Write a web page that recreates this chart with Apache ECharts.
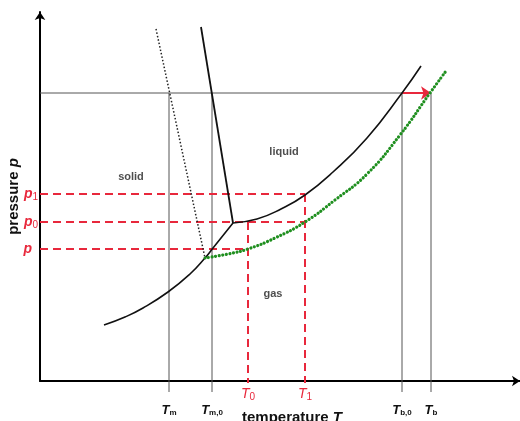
<!DOCTYPE html>
<html><head><meta charset="utf-8">
<script src="https://cdn.jsdelivr.net/npm/echarts@6/dist/echarts.min.js"></script>
<style>html,body{margin:0;padding:0;background:#fff}#c{width:520px;height:421px}</style>
</head><body><div id="c"></div>
<script>
// Arbitrary temperature / pressure units
const sublimation = [[64,56],[85,64],[103,73],[128,89],[150,107],[165,123],[173,133],[193,158]];
const melting = [[161,354],[193,158]];
const meltingMeta = [[116,352],[165,123]];
const vaporization = [[193,158],[217,162],[241,172],[265,186],[293,209],[327,243],[362,288],[381,315]];
const vaporShifted = [[165,123],[188,127],[208,132],[235,143],[265,159],[295,181],[327,207],[360,246],[390,288],[406,310]];
const tempTicks = [129,172,208,265,362,391];
const tempTickSubs = ['m','m,0','0','1','b,0','b'];
const tempTickRed = [false,false,true,true,false,false];
const pressTicks = [132,159,187];
const pressTickSubs = ['','0','1'];
const refPressure = 288;
const regionNames = ['solid','liquid','gas'];
const regionPos = [[91,204],[244,229],[233,87]];

const RED = '#e8283c', GREEN = '#1f8f1f', FONT = 'Liberation Sans, Arial, sans-serif';
const T = i => tempTicks[i], P = i => pressTicks[i];
const below = -11;

function seg(data, color, width, type, extra) {
  return Object.assign({type:'line', data, symbol:'none', silent:true, clip:false, animation:false,
    lineStyle:{color, width, type}}, extra||{});
}
const series = [
  seg([[0,refPressure],[T(4),refPressure]], '#555', 1, 'solid'),
  seg([[T(0),refPressure],[T(0),below]], '#555', 1, 'solid'),
  seg([[T(1),refPressure],[T(1),below]], '#555', 1, 'solid'),
  seg([[T(4),refPressure],[T(4),below]], '#555', 1, 'solid'),
  seg([[T(5),refPressure],[T(5),below]], '#555', 1, 'solid'),
  seg([[0,P(2)],[T(3),P(2)]], RED, 2, [8,5]),
  seg([[0,P(1)],[T(3),P(1)]], RED, 2, [8,5]),
  seg([[0,P(0)],[T(2),P(0)]], RED, 2, [8,5]),
  seg([[T(2),P(1)],[T(2),-2]], RED, 2, [8,5]),
  seg([[T(3),P(2)],[T(3),-2]], RED, 2, [8,5]),
  seg(sublimation, '#111', 1.6, 'solid', {smooth:0.5}),
  seg(melting, '#111', 1.8, 'solid'),
  seg(meltingMeta, '#222', 1.5, [1.5,2]),
  seg(vaporization, '#111', 1.6, 'solid', {smooth:0.5}),
  seg(vaporShifted, GREEN, 3.2, [0.01,3.6], {smooth:0.5, lineStyle:{color:GREEN,width:3.2,type:[0.01,3.6],cap:'round'}}),
  {type:'lines', coordinateSystem:'cartesian2d', silent:true, animation:false,
   symbol:['none','arrow'], symbolSize:10,
   lineStyle:{color:RED, width:2, opacity:1},
   data:[{coords:[[T(4),refPressure],[T(5),refPressure]]}]},
  {type:'scatter', symbolSize:0, silent:true, animation:false, clip:false,
   data: regionNames.map((n,i)=>({name:n, value:regionPos[i]})),
   label:{show:true, position:'inside', formatter:'{b}', color:'#222', fontSize:11, fontWeight:'bold', fontFamily:FONT}}
];

const chart = echarts.init(document.getElementById('c'), null, {renderer:'canvas'});
chart.setOption({
  animation:false,
  grid:{left:40, right:0, top:12, bottom:40, containLabel:false, outerBoundsMode:'none'},
  xAxis:{type:'value', min:0, max:480,
    name:'temperature {i|T}', nameLocation:'middle', nameGap:29, nameMoveOverlap:false,
    nameTextStyle:{fontSize:15, fontWeight:'bold', color:'#111', fontFamily:FONT, padding:[0,0,0,24],
      rich:{i:{fontSize:15, fontWeight:'bold', fontStyle:'italic', color:'#111', fontFamily:FONT}}},
    axisLine:{show:true, symbol:['none','arrow'], symbolSize:[8,8], lineStyle:{color:'#000', width:2}},
    axisTick:{show:false}, splitLine:{show:false},
    axisLabel:{customValues:tempTicks, margin:4,
      formatter:(v)=>{const i=tempTicks.indexOf(v); const s=tempTickSubs[i];
        return tempTickRed[i] ? '{rT|T}{rs|'+s+'}' : '{bT|T}{bs|'+s+'}';},
      rich:{
        rT:{color:RED, fontSize:14, fontStyle:'italic', fontFamily:FONT, lineHeight:18},
        rs:{color:RED, fontSize:10, fontFamily:FONT, lineHeight:18, padding:[6,0,0,0]},
        bT:{color:'#111', fontSize:13, fontWeight:'bold', fontStyle:'italic', fontFamily:FONT, lineHeight:50},
        bs:{color:'#111', fontSize:8, fontWeight:'bold', fontFamily:FONT, lineHeight:50, padding:[6,0,0,0]}
      }}
  },
  yAxis:{type:'value', min:0, max:369,
    name:'pressure {i|p}', nameLocation:'middle', nameGap:19, nameRotate:90, nameMoveOverlap:false,
    nameTextStyle:{fontSize:15, fontWeight:'bold', color:'#111', fontFamily:FONT,
      rich:{i:{fontSize:15, fontWeight:'bold', fontStyle:'italic', color:'#111', fontFamily:FONT}}},
    axisLine:{show:true, symbol:['none','arrow'], symbolSize:[8,8], lineStyle:{color:'#000', width:2}},
    axisTick:{show:false}, splitLine:{show:false},
    axisLabel:{customValues:pressTicks, margin:2,
      formatter:(v)=>{const i=pressTicks.indexOf(v); const s=pressTickSubs[i];
        return s ? '{p|p}{ps|'+s+'}' : '{p|p}{sp| }';},
      rich:{
        p:{color:RED, fontSize:14, fontStyle:'italic', fontWeight:'bold', fontFamily:FONT},
        ps:{color:RED, fontSize:10, fontFamily:FONT, padding:[6,0,0,0]},
        sp:{fontSize:10, width:6}
      }}
  },
  series
});
</script></body></html>
